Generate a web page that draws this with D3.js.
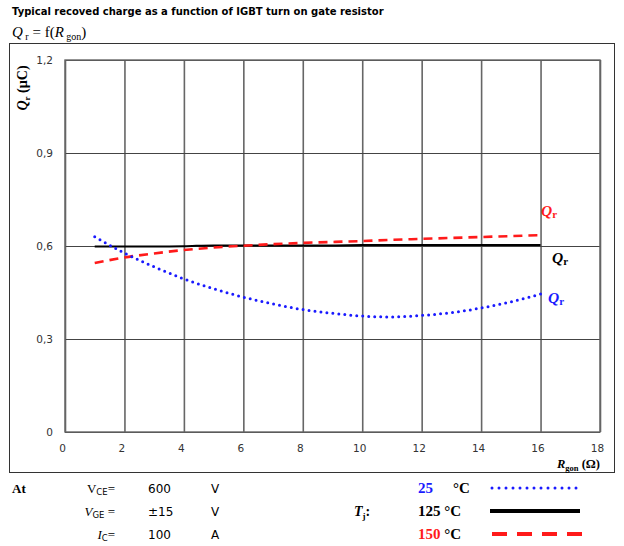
<!DOCTYPE html>
<html>
<head>
<meta charset="utf-8">
<script src="https://cdn.jsdelivr.net/npm/d3@7"></script>
<style>
  body { margin: 0; background: #fff; }
  svg { display: block; }
</style>
</head>
<body>
<div id="chart"></div>
<script>
// Valores (Rgon en ohm, Qr en uC)
const rgon = [1, 2, 3, 4, 5, 6, 7, 8, 9, 10, 11, 12, 13, 14, 15, 16];
const qr25 = [0.630, 0.577, 0.533, 0.494, 0.462, 0.435, 0.413, 0.395, 0.383, 0.374, 0.371, 0.376, 0.385, 0.400, 0.420, 0.445];
const qr125 = [0.598, 0.598, 0.598, 0.599, 0.602, 0.602, 0.602, 0.602, 0.602, 0.603, 0.603, 0.603, 0.603, 0.603, 0.603, 0.603];
const qr150 = [0.545, 0.563, 0.576, 0.587, 0.595, 0.601, 0.606, 0.610, 0.613, 0.616, 0.620, 0.623, 0.626, 0.629, 0.632, 0.635];
const xTicks = [0, 2, 4, 6, 8, 10, 12, 14, 16, 18];
const yTicks = [0, 0.3, 0.6, 0.9, 1.2];

const width = 624, height = 546;
const serif = "'Liberation Serif', 'DejaVu Serif', serif";
const sans = "'DejaVu Sans', Verdana, sans-serif";

const svg = d3.select("#chart").append("svg")
    .attr("width", width)
    .attr("height", height);

// Escalas
const x = d3.scaleLinear().domain([0, 18]).range([65, 600]);
const y = d3.scaleLinear().domain([0, 1.2]).range([432, 60]);

// Titulo
svg.append("text")
    .attr("x", 12).attr("y", 15)
    .style("font-family", sans).style("font-weight", "bold").style("font-size", "10px")
    .text("Typical recoved charge as a function of IGBT turn on gate resistor");

const sub = svg.append("text")
    .attr("x", 12).attr("y", 37)
    .style("font-family", serif).style("font-size", "15px");
sub.append("tspan").style("font-style", "italic").text("Q");
sub.append("tspan").attr("dy", 3).style("font-size", "10px").text(" r");
sub.append("tspan").attr("dy", -3).text(" = f(");
sub.append("tspan").style("font-style", "italic").text("R");
sub.append("tspan").attr("dy", 3).style("font-size", "10px").text(" gon");
sub.append("tspan").attr("dy", -3).text(")");

// Marco exterior
svg.append("rect")
    .attr("x", 9.5).attr("y", 43.5)
    .attr("width", 605).attr("height", 429)
    .attr("fill", "none").attr("stroke", "#333").attr("stroke-width", 1);

// Rejilla vertical
svg.append("g")
    .attr("transform", `translate(0,${y(0)})`)
    .call(d3.axisBottom(x).tickValues(xTicks).tickSize(-(y(0) - y(1.2))).tickFormat(""))
    .call(g => g.select(".domain").remove())
    .call(g => g.selectAll(".tick line").attr("stroke", "#666").attr("stroke-width", 1.6));

// Rejilla horizontal
svg.append("g")
    .attr("transform", `translate(${x(0)},0)`)
    .call(d3.axisLeft(y).tickValues(yTicks).tickSize(-(x(18) - x(0))).tickFormat(""))
    .call(g => g.select(".domain").remove())
    .call(g => g.selectAll(".tick line").attr("stroke", "#444").attr("stroke-width", 1.1));

// Borde del area de trazado
svg.append("rect")
    .attr("x", x(0)).attr("y", y(1.2))
    .attr("width", x(18) - x(0)).attr("height", y(0) - y(1.2))
    .attr("fill", "none").attr("stroke", "#666").attr("stroke-width", 1.4);

// Etiquetas de ejes
const fmt = d => d3.format(".1f")(d).replace(".", ",");
svg.append("g")
    .attr("transform", `translate(0,${y(0)})`)
    .call(d3.axisBottom(x).tickValues(xTicks).tickSize(0).tickPadding(13).tickFormat(d3.format("d")))
    .call(g => g.select(".domain").remove())
    .call(g => g.selectAll("text").attr("dx", -3)
        .style("font-family", sans).style("font-size", "10.5px").attr("fill", "#333"));

svg.append("g")
    .attr("transform", `translate(${x(0)},0)`)
    .call(d3.axisLeft(y).tickValues(yTicks).tickSize(0).tickPadding(12).tickFormat(d => d === 0 ? "0" : fmt(d)))
    .call(g => g.select(".domain").remove())
    .call(g => g.selectAll("text")
        .style("font-family", sans).style("font-size", "10.5px").attr("fill", "#333"));

// Titulo eje Y
const yl = svg.append("text")
    .attr("transform", "translate(27,88) rotate(-90)")
    .attr("text-anchor", "middle")
    .style("font-family", serif).style("font-weight", "bold").style("font-size", "14px");
yl.append("tspan").style("font-style", "italic").text("Q");
yl.append("tspan").attr("dy", 3).style("font-size", "9px").text("r");
yl.append("tspan").attr("dy", -3).text(" (µC)");

// Titulo eje X
const xl = svg.append("text")
    .attr("x", 600).attr("y", 468)
    .attr("text-anchor", "end")
    .style("font-family", serif).style("font-weight", "bold").style("font-size", "12.5px");
xl.append("tspan").style("font-style", "italic").text("R");
xl.append("tspan").attr("dy", 3).style("font-size", "8.5px").text("gon");
xl.append("tspan").attr("dy", -3).text(" (Ω)");

// Curvas
const line = d3.line().x(d => x(d[0])).y(d => y(d[1])).curve(d3.curveMonotoneX);

svg.append("path")
    .datum(d3.zip(rgon, qr125))
    .attr("d", line)
    .attr("fill", "none").attr("stroke", "#000").attr("stroke-width", 2);

svg.append("path")
    .datum(d3.zip(rgon, qr150))
    .attr("d", line)
    .attr("fill", "none").attr("stroke", "#ff1a1a").attr("stroke-width", 2.6)
    .attr("stroke-dasharray", "9,6");

svg.append("path")
    .datum(d3.zip(rgon, qr25))
    .attr("d", line)
    .attr("fill", "none").attr("stroke", "#1a1aff").attr("stroke-width", 3)
    .attr("stroke-linecap", "round").attr("stroke-dasharray", "0,6");

// Etiquetas de curvas
function curveLabel(px, py, color) {
    const t = svg.append("text")
        .attr("x", px).attr("y", py)
        .attr("fill", color)
        .style("font-family", serif).style("font-weight", "bold").style("font-size", "15.5px");
    t.append("tspan").style("font-style", "italic").text("Q");
    t.append("tspan").attr("dy", 2).style("font-size", "11px").text("r");
}
curveLabel(541, 216, "#ff1a1a");
curveLabel(552, 263, "#000");
curveLabel(548, 303, "#1a1aff");

// Condiciones de medida
const cond = svg.append("g").style("font-size", "13px");
cond.append("text").attr("x", 12).attr("y", 493)
    .style("font-family", serif).style("font-weight", "bold").text("At");

function condLabel(py, sym, symItalic, subTxt, sp) {
    const t = cond.append("text").attr("x", 115).attr("y", py).attr("text-anchor", "end")
        .style("font-family", serif);
    t.append("tspan").style("font-style", symItalic ? "italic" : "normal").text(sym);
    t.append("tspan").attr("dy", 2).style("font-family", sans).style("font-size", "8.5px").text(subTxt);
    t.append("tspan").attr("dy", -2).text(sp + "=");
}
condLabel(493, "V", false, "CE", "");
condLabel(516, "V", true, "GE", " ");
condLabel(539, "I", true, "C", "");

const condVals = ["600", "±15", "100"];
const condUnits = ["V", "V", "A"];
const rowsY = [493, 516, 539];
condVals.forEach((v, i) => {
    cond.append("text").attr("x", 148).attr("y", rowsY[i])
        .style("font-family", sans).style("font-size", "12px").text(v);
    cond.append("text").attr("x", 211).attr("y", rowsY[i])
        .style("font-family", sans).style("font-size", "12px").text(condUnits[i]);
});

const tj = cond.append("text").attr("x", 354).attr("y", 516)
    .style("font-family", serif).style("font-weight", "bold").style("font-size", "14px");
tj.append("tspan").style("font-style", "italic").text("T");
tj.append("tspan").attr("dy", 3).style("font-size", "9px").text("j");
tj.append("tspan").attr("dy", -3).text(":");

// Leyenda de temperaturas
const temps = ["25", "125", "150"];
const tempColors = ["#1a1aff", "#000", "#ff1a1a"];
temps.forEach((t, i) => {
    const tx = cond.append("text").attr("x", 418).attr("y", rowsY[i])
        .style("font-family", serif).style("font-weight", "bold").style("font-size", "15px");
    tx.append("tspan").attr("fill", tempColors[i]).text(t);
    tx.append("tspan").attr("x", i === 0 ? 453 : null).text(i === 0 ? "°C" : " °C");
});

const legY = rowsY.map(v => v - 5);
cond.append("line").attr("x1", 492).attr("x2", 580).attr("y1", legY[0]).attr("y2", legY[0])
    .attr("stroke", "#1a1aff").attr("stroke-width", 3).attr("stroke-linecap", "round")
    .attr("stroke-dasharray", "0,7");
cond.append("line").attr("x1", 490).attr("x2", 580).attr("y1", legY[1]).attr("y2", legY[1])
    .attr("stroke", "#000").attr("stroke-width", 4);
cond.append("line").attr("x1", 492).attr("x2", 582).attr("y1", legY[2]).attr("y2", legY[2])
    .attr("stroke", "#ff1a1a").attr("stroke-width", 4).attr("stroke-dasharray", "15,10");
</script>
</body>
</html>
